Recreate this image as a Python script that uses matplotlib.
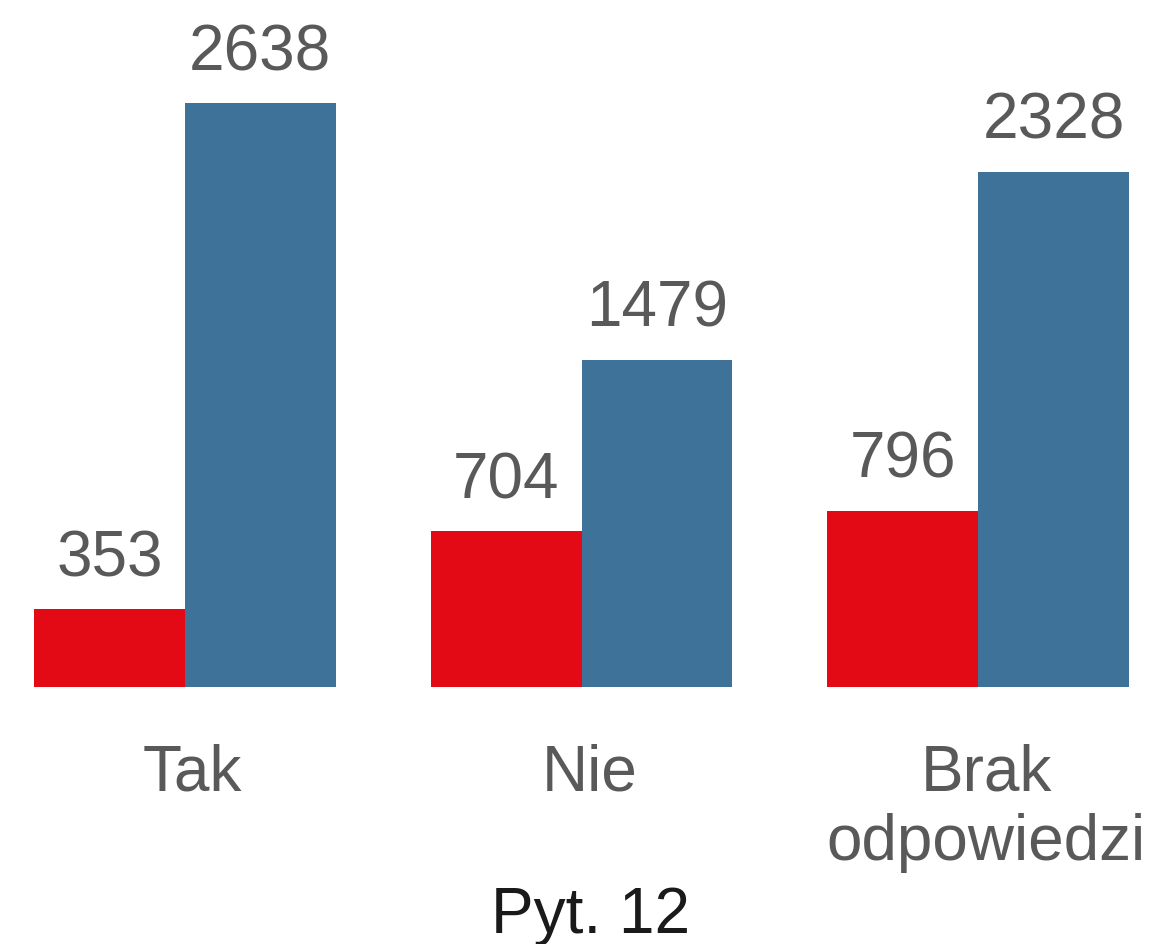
import matplotlib
matplotlib.use("Agg")
import matplotlib.pyplot as plt
import matplotlib.transforms as mtransforms
import numpy as np

# ── data ─────────────────────────────────────────────────────────────────────
categories = ["Tak", "Nie", "Brak\nodpowiedzi"]
red_vals = [353, 704, 796]
blue_vals = [2638, 1479, 2328]
xlabel = "Pyt. 12"

RED = "#E30A16"
BLUE = "#3E7299"
GREY = "#595959"

plt.rcParams["font.family"] = ["Liberation Sans", "DejaVu Sans"]

fig = plt.figure(figsize=(11.54, 9.45), dpi=100, facecolor="white")
ax = fig.add_axes([34 / 1154, (945 - 688) / 945, 1095 / 1154, 584 / 945])

x = np.arange(len(categories))
w = 0.38
b1 = ax.bar(x - w / 2, red_vals, width=w, color=RED, linewidth=0)
b2 = ax.bar(x + w / 2, blue_vals, width=w, color=BLUE, linewidth=0)

for bars in (b1, b2):
    for r in bars:
        ax.annotate(f"{int(r.get_height())}",
                    (r.get_x() + r.get_width() / 2, r.get_height()),
                    xytext=(0, 15), textcoords="offset points",
                    ha="center", va="bottom", fontsize=46, color=GREY,
                    annotation_clip=False)

ax.set_xlim(-w, len(categories) - 1 + w)
ax.set_ylim(0, max(blue_vals))
ax.set_xticks(x)
ax.set_xticklabels(categories, fontsize=46, color=GREY, linespacing=1.2)
ax.tick_params(axis="x", length=0, pad=40)
shift = mtransforms.ScaledTranslation(8 / 100, 0, fig.dpi_scale_trans)
for lbl in ax.get_xticklabels():
    lbl.set_transform(lbl.get_transform() + shift)
ax.set_yticks([])
for s in ax.spines.values():
    s.set_visible(False)

fig.text(591 / 1154, 1 - 933 / 945, xlabel, ha="center", va="baseline",
         fontsize=46, color="#1a1a1a")

plt.savefig("out.png", dpi=100, facecolor="white")
